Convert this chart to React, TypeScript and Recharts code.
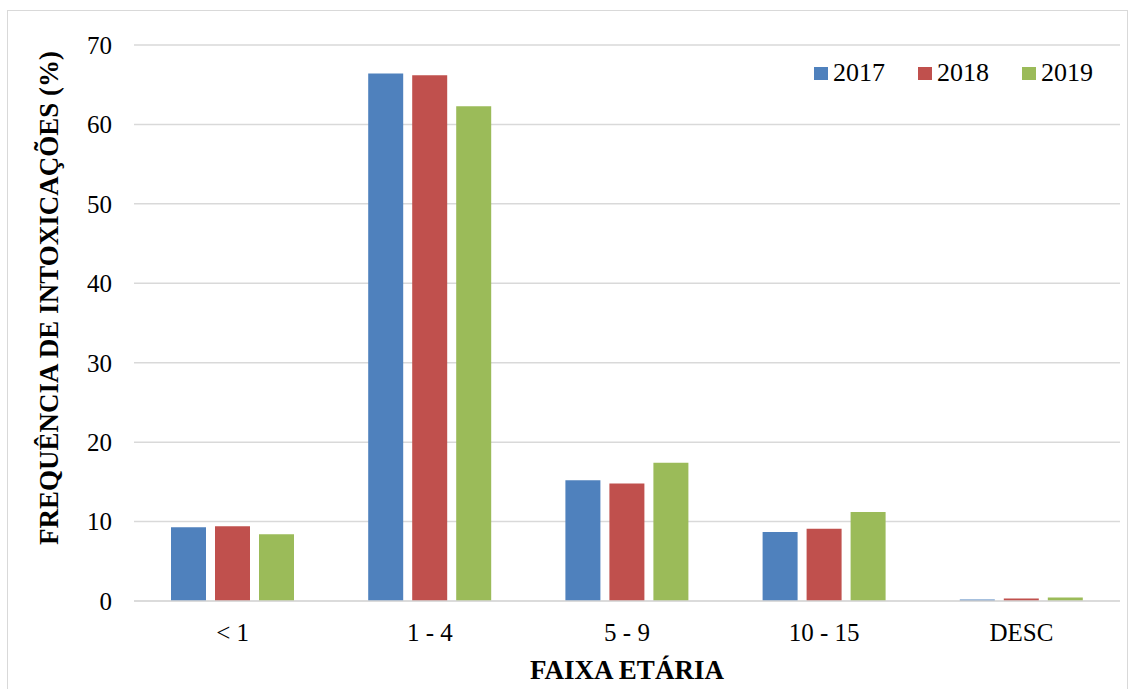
import { Bar, BarChart, CartesianGrid, Label, XAxis, YAxis } from "recharts";

const categories = ["< 1", "1 - 4", "5 - 9", "10 - 15", "DESC"];
const years = ["2017", "2018", "2019"];
const values2017 = [9.3, 66.4, 15.2, 8.7, 0.2];
const values2018 = [9.4, 66.2, 14.8, 9.1, 0.3];
const values2019 = [8.4, 62.3, 17.4, 11.2, 0.45];
const yTicks = [0, 10, 20, 30, 40, 50, 60, 70];

const colors = ["#4f81bd", "#c0504d", "#9bbb59"];
const serif = "Liberation Serif";

const data = categories.map((c, i) => ({
  cat: c,
  "2017": values2017[i],
  "2018": values2018[i],
  "2019": values2019[i]
}));

// legend sits inside the plot, top right, so it's drawn outside the chart's layout
function LegendBox() {
  return (
    <div
      style={{
        position: "absolute",
        left: 814,
        top: 60,
        display: "flex",
        alignItems: "center",
        fontFamily: serif,
        fontSize: 26,
        color: "#000"
      }}
    >
      {years.map((y, i) => (
        <div key={y} style={{ display: "flex", alignItems: "center", marginRight: i < 2 ? 33 : 0 }}>
          <span style={{ width: 14, height: 13, background: colors[i], display: "inline-block", marginRight: 5 }} />
          <span style={{ lineHeight: "26px" }}>{y}</span>
        </div>
      ))}
    </div>
  );
}

export default function App() {
  return (
    <div
      style={{
        position: "fixed",
        left: 0,
        top: 0,
        width: 1131,
        height: 689,
        background: "#fff",
        overflow: "hidden",
        fontFamily: serif
      }}
    >
      <div
        style={{
          position: "absolute",
          left: 7,
          top: 10,
          width: 1121,
          height: 700,
          border: "1px solid #d9d9d9",
          boxSizing: "border-box"
        }}
      />
      <div style={{ position: "absolute", left: 0, top: 0 }}>
        <BarChart
          width={1131}
          height={689}
          data={data}
          margin={{ top: 45, right: 11, bottom: 0, left: 0 }}
          barSize={35}
          barGap={9}
          style={{ fontFamily: serif }}
        >
          <CartesianGrid vertical={false} stroke="#d9d9d9" strokeWidth={1.5} />
          <XAxis
            dataKey="cat"
            height={88}
            tickLine={false}
            tickSize={0}
            tickMargin={22}
            axisLine={{ stroke: "#d9d9d9", strokeWidth: 1.5 }}
            tick={{ fill: "#000", fontSize: 25, fontFamily: serif }}
          >
            <Label
              content={() => (
                <text
                  x={627}
                  y={679}
                  textAnchor="middle"
                  fill="#000"
                  style={{ fontFamily: serif, fontSize: 27, fontWeight: "bold" }}
                >
                  FAIXA ETÁRIA
                </text>
              )}
            />
          </XAxis>
          <YAxis
            width={134}
            domain={[0, 70]}
            ticks={yTicks}
            tickLine={false}
            tickSize={0}
            tickMargin={22}
            axisLine={false}
            tick={{ fill: "#000", fontSize: 25, fontFamily: serif }}
          >
            <Label
              content={() => (
                <text
                  x={58}
                  y={298}
                  transform="rotate(-90 58 298)"
                  textAnchor="middle"
                  fill="#000"
                  style={{ fontFamily: serif, fontSize: 27, fontWeight: "bold" }}
                >
                  FREQUÊNCIA DE INTOXICAÇÕES (%)
                </text>
              )}
            />
          </YAxis>
          {years.map((y, i) => (
            <Bar key={y} dataKey={y} fill={colors[i]} isAnimationActive={false} />
          ))}
        </BarChart>
      </div>
      <LegendBox />
    </div>
  );
}
